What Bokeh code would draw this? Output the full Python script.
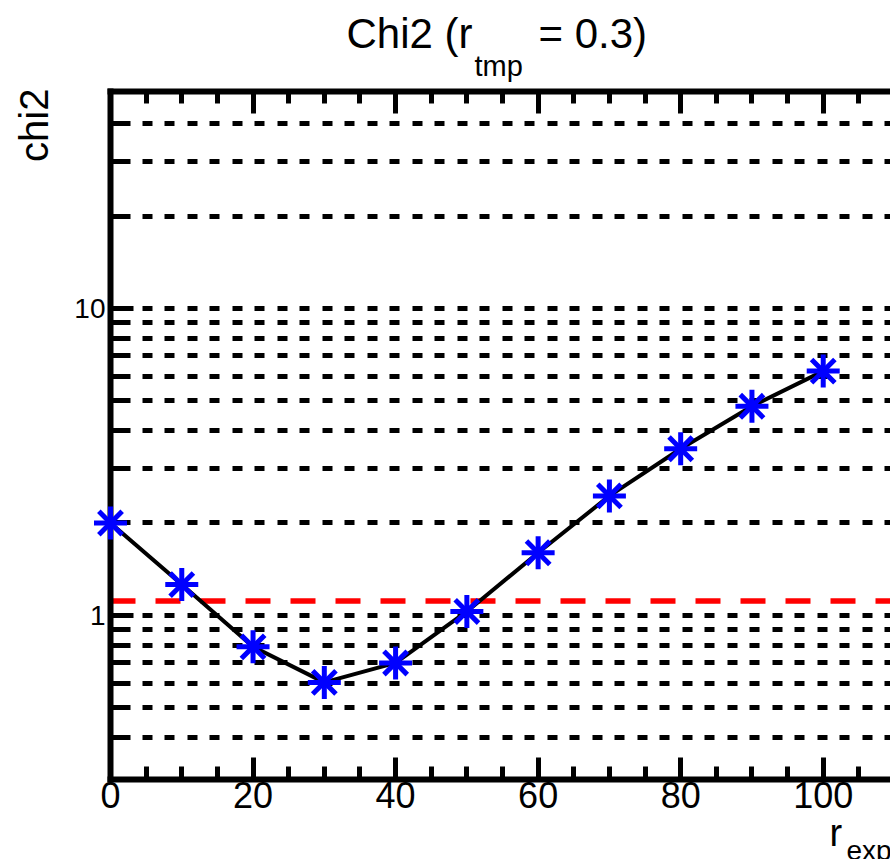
import math
from bokeh.plotting import figure
from bokeh.models import (Range1d, FixedTicker, SingleIntervalTicker, LinearAxis,
                          Span, CustomJSTickFormatter)
from bokeh.core.properties import value
from bokeh.embed import file_html
from bokeh.resources import INLINE

# ---- data ----
r_exp = [0, 10, 20, 30, 40, 50, 60, 70, 80, 90, 100]
chi2 = [2.0, 1.26, 0.79, 0.605, 0.70, 1.03, 1.60, 2.45, 3.49, 4.80, 6.25]
chi2_limit = 1.113

x_tick_interval = 20
x_minor_per_major = 4
y_major = [1, 10]
y_major_labels = ["1", "10"]
y_minor = [0.4, 0.5, 0.6, 0.7, 0.8, 0.9, 2, 3, 4, 5, 6, 7, 8, 9, 20, 30, 40]

title_main = "Chi2 (r"
title_sub = "tmp"
title_rest = "= 0.3)"
y_title = "chi2"
x_title_main = "r"
x_title_sub = "exp"

FONT = "Liberation Sans"
X_START, X_END = 0, 109.44
Y_START, Y_END = 0.292, 50.9

p = figure(width=890, height=859, title=None,
           x_range=Range1d(X_START, X_END), y_range=Range1d(Y_START, Y_END),
           y_axis_type="log", output_backend="svg", toolbar_location=None,
           min_border_left=110, min_border_right=0, min_border_top=91,
           min_border_bottom=80)
p.outline_line_color = None
p.background_fill_color = "white"
p.border_fill_color = "white"

xticker = SingleIntervalTicker(interval=x_tick_interval, num_minor_ticks=x_minor_per_major)
yticker = FixedTicker(ticks=y_major, minor_ticks=y_minor)

def style_axis(ax):
    ax.axis_line_width = 6
    ax.axis_line_color = "black"
    ax.axis_line_cap = "square"
    ax.major_tick_line_width = 5
    ax.minor_tick_line_width = 5
    ax.major_tick_out = 0
    ax.minor_tick_out = 0
    ax.major_label_text_font = FONT
    ax.major_label_text_color = "black"

xax = p.xaxis[0]
xax.ticker = xticker
style_axis(xax)
xax.major_tick_in = 22
xax.minor_tick_in = 13
xax.major_label_text_font_size = "36px"
xax.major_label_standoff = 2

yax = p.yaxis[0]
yax.ticker = yticker
style_axis(yax)
yax.major_tick_in = 23
yax.minor_tick_in = 20
yax.major_label_overrides = {v: s for v, s in zip(y_major, y_major_labels)}
yax.major_label_text_font_size = "28px"
yax.major_label_standoff = 5

top = LinearAxis(ticker=SingleIntervalTicker(interval=x_tick_interval, num_minor_ticks=x_minor_per_major),
                 formatter=CustomJSTickFormatter(code="return ''"))
style_axis(top)
top.major_tick_in = 22
top.minor_tick_in = 12
top.major_label_text_font_size = "0px"
top.major_label_standoff = 0
p.add_layout(top, "above")

p.xgrid.visible = False
yg = p.ygrid[0]
yg.ticker = yticker
for pre in ("", "minor_"):
    setattr(yg, pre + "grid_line_color", "black")
    setattr(yg, pre + "grid_line_width", 5)
    setattr(yg, pre + "grid_line_dash", "10 12 10 13")
    setattr(yg, pre + "grid_line_dash_offset", 13)

limit = Span(location=chi2_limit, dimension="width", line_color="red",
             line_width=5.5, line_dash="25 20", level="underlay")
p.add_layout(limit)

p.line(r_exp, chi2, line_color="black", line_width=4)
p.scatter(r_exp, chi2, marker="cross", size=33, line_color="blue", line_width=5, level="overlay")
p.scatter(r_exp, chi2, marker="x", size=33, line_color="blue", line_width=5, level="overlay")

# texts anchored at the frame's top-left corner, shifted in screen pixels
def lab(text, dx, dy, size, align="left", angle=0.0):
    p.text(x=[X_START], y=[Y_END], text=[text], x_offset=dx, y_offset=dy,
           angle=angle, text_font=value(FONT), text_font_size=value(size),
           text_color="black", text_baseline="alphabetic", text_align=align,
           level="overlay")

lab(title_main, 236, -58.5, "42px")
lab(title_sub, 364, -26, "29px")
lab(title_rest, 428, -58.5, "42px")
lab(y_title, -77, -3, "40px", align="right", angle=math.pi / 2)
lab(x_title_main, 719, 741, "38px")
lab(x_title_sub, 736, 759, "28px")

open("out.html", "w").write(file_html(p, INLINE))
